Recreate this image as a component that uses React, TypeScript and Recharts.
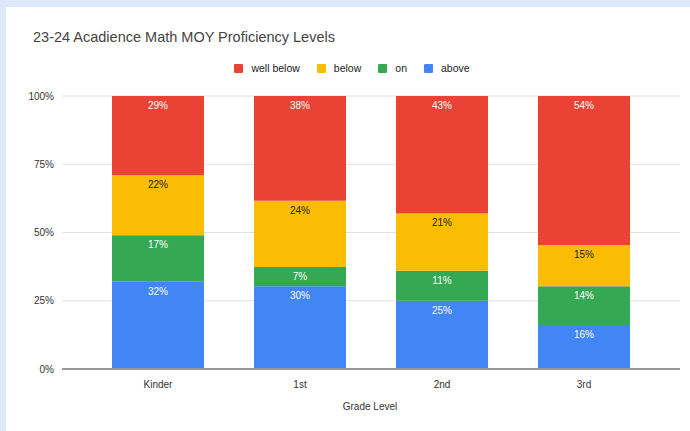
import { BarChart, Bar, XAxis, YAxis, CartesianGrid, LabelList } from 'recharts'

const grades = ['Kinder', '1st', '2nd', '3rd']
const above = [32, 30, 25, 16]
const onLevel = [17, 7, 11, 14]
const below = [22, 24, 21, 15]
const wellBelow = [29, 38, 43, 54]
const yTicks = [0, 0.25, 0.5, 0.75, 1]

// stack order bottom -> top; legend shows it reversed
const series = [
  { key: 'above', name: 'above', color: '#4285f4', label: '#ffffff' },
  { key: 'on', name: 'on', color: '#34a853', label: '#ffffff' },
  { key: 'below', name: 'below', color: '#fbbc04', label: '#222222' },
  { key: 'wellBelow', name: 'well below', color: '#ea4335', label: '#ffffff' },
]

const data = grades.map((g, i) => ({
  grade: g,
  above: above[i],
  on: onLevel[i],
  below: below[i],
  wellBelow: wellBelow[i],
}))

const font = '"Liberation Sans", Arial, sans-serif'

function LegendRow() {
  return (
    <div style={{ position: 'absolute', left: 0, top: 62, width: 704, display: 'flex', justifyContent: 'center', alignItems: 'center', gap: 17, fontSize: 10.5, color: '#222', fontFamily: font }}>
      {[...series].reverse().map((s) => (
        <div key={s.key} style={{ display: 'flex', alignItems: 'center' }}>
          <span style={{ width: 9, height: 9, background: s.color, borderRadius: 1, marginRight: 8, display: 'inline-block' }} />
          <span>{s.name}</span>
        </div>
      ))}
    </div>
  )
}

export default function App() {
  return (
    <div style={{ position: 'absolute', left: 0, top: 0, width: 690, height: 431, background: '#dde9f8', overflow: 'hidden' }}>
      <div style={{ position: 'absolute', left: 6, top: 7, width: 684, height: 424, background: '#ffffff' }} />
      <div style={{ position: 'absolute', left: 33, top: 29, fontSize: 14.5, color: '#444', fontFamily: font }}>
        23-24 Acadience Math MOY Proficiency Levels
      </div>
      <LegendRow />
      <div style={{ position: 'absolute', left: 0, top: 0 }}>
        <BarChart
          width={690}
          height={431}
          data={data}
          stackOffset="expand"
          margin={{ top: 96, right: 10, bottom: 32, left: 0 }}
          style={{ fontFamily: font }}
        >
          <CartesianGrid vertical={false} stroke="#e0e0e0" />
          <XAxis
            dataKey="grade"
            height={30}
            padding={{ left: 25, right: 25 }}
            tickLine={false}
            axisLine={{ stroke: '#999', strokeWidth: 2 }}
            tick={{ fontSize: 10, fill: '#333' }}
            tickMargin={6}
          />
          <YAxis
            width={62}
            ticks={yTicks}
            domain={[0, 1]}
            tickFormatter={(v: number) => `${Math.round(v * 100)}%`}
            tickLine={false}
            axisLine={false}
            tick={{ fontSize: 10, fill: '#333' }}
          />
          {series.map((s) => (
            <Bar key={s.key} dataKey={s.key} name={s.name} stackId="a" fill={s.color} barSize={92} isAnimationActive={false}>
              <LabelList
                dataKey={s.key}
                position="insideTop"
                offset={6}
                fill={s.label}
                fontSize={10}
                formatter={(v: any) => `${v}%`}
              />
            </Bar>
          ))}
        </BarChart>
      </div>
      <div style={{ position: 'absolute', left: 0, top: 401, width: 740, textAlign: 'center', fontSize: 10, color: '#333', fontFamily: font }}>
        Grade Level
      </div>
    </div>
  )
}
